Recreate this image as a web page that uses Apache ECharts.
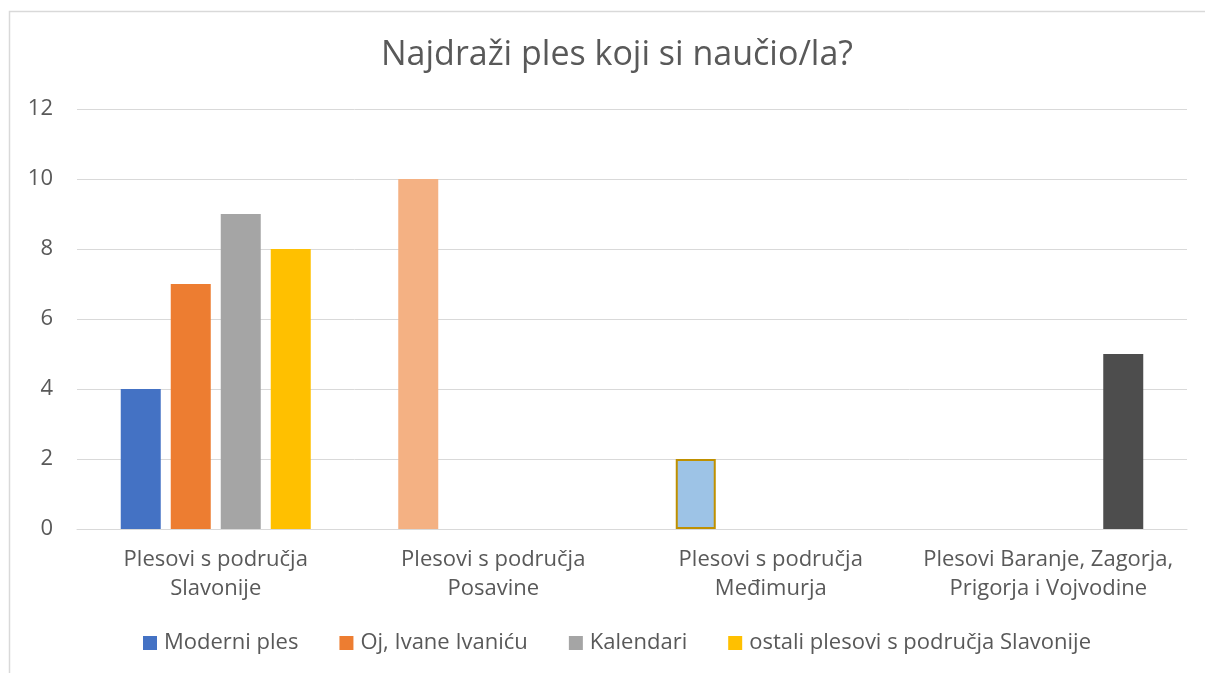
<!DOCTYPE html>
<html><head><meta charset="utf-8">
<script src="https://cdn.jsdelivr.net/npm/echarts@6/dist/echarts.min.js"></script>
<style>html,body{margin:0;padding:0;background:#fff}#c{width:1205px;height:673px}</style>
</head><body><div id="c"></div>
<script>
const categories = ['Plesovi s područja\nSlavonije','Plesovi s područja\nPosavine','Plesovi s područja\nMeđimurja','Plesovi Baranje, Zagorja,\nPrigorja i Vojvodine'];
const seriesNames = ['Moderni ples','Oj, Ivane Ivaniću','Kalendari','ostali plesovi s područja Slavonije'];
const moderniPles = [4, 10, 2, null];
const ojIvane = [7, null, null, null];
const kalendari = [9, null, null, null];
const ostali = [8, null, null, 5];
const yTicks = [0, 2, 4, 6, 8, 10, 12];

const baseColors = ['#4472C4','#ED7D31','#A5A5A5','#FFC000'];
const pointStyles = {
  '0-1': {color:'#F4B183'},
  '0-2': {color:'#9DC3E6', borderColor:'#BF9000', borderWidth:2},
  '3-3': {color:'#4D4D4D'}
};
const font = '"Open Sans", sans-serif';
const chart = echarts.init(document.getElementById('c'));
const all = [moderniPles, ojIvane, kalendari, ostali];
chart.setOption({
  animation:false,
  title:{text:'Najdraži ples koji si naučio/la?', left:376, top:33,
    textStyle:{fontFamily:font, fontSize:34, fontWeight:'normal', color:'#595959'}},
  legend:{top:627, left:138, itemWidth:14, itemHeight:14, itemGap:41,
    icon:'rect', textStyle:{fontFamily:font, fontSize:22, color:'#595959', padding:[0,0,0,2]}},
  grid:{left:77, right:18, top:109, bottom:144},
  xAxis:{type:'category', data:categories,
    axisLine:{lineStyle:{color:'#D9D9D9'}}, axisTick:{show:false},
    axisLabel:{interval:0, fontFamily:font, fontSize:22, color:'#595959', lineHeight:29, margin:16}},
  yAxis:{type:'value', min:yTicks[0], max:yTicks[yTicks.length-1], interval:2,
    axisLine:{show:false}, axisTick:{show:false},
    splitLine:{lineStyle:{color:'#D9D9D9'}},
    axisLabel:{fontFamily:font, fontSize:22, color:'#595959', margin:24}},
  graphic:[{type:'rect', shape:{x:9.5, y:11.5, width:1300, height:800},
    style:{fill:null, stroke:'#D9D9D9', lineWidth:1.5}, silent:true, z:-10}],
  series: all.map((arr, si) => ({
    name: seriesNames[si], type:'bar', barWidth:40, barGap:'25%',
    itemStyle:{color:baseColors[si]},
    data: arr.map((v, ci) => {
      const st = pointStyles[si+'-'+ci];
      return st ? {value:v, itemStyle:st} : v;
    })
  }))
});
</script></body></html>
